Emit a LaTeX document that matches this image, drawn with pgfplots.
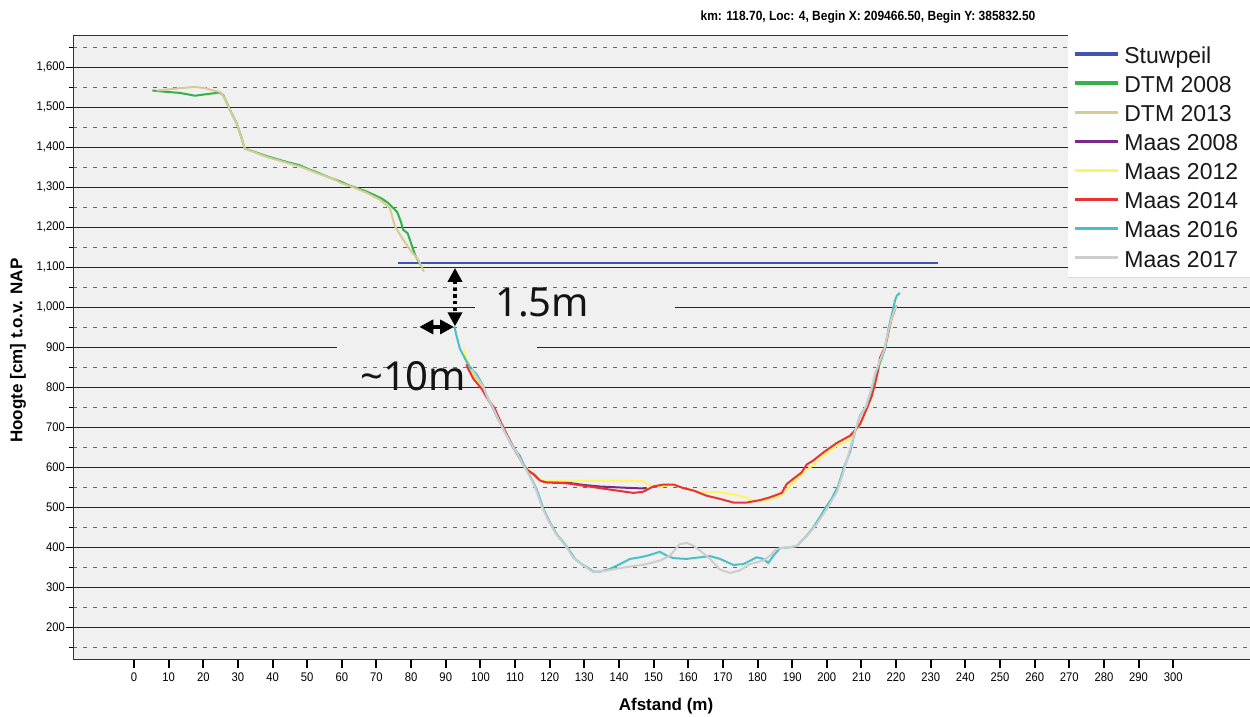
\documentclass[border=0pt]{standalone}
\usepackage{fontspec}
\setmainfont{Liberation Sans}
\newfontfamily\narrowfont[FakeStretch=0.9]{Liberation Sans}
\newfontfamily\notefont{Noto Sans}
\usepackage{pgfplots}
\pgfplotsset{compat=1.18}
\usetikzlibrary{arrows.meta}

\definecolor{plotbg}{RGB}{240,240,240}
\definecolor{stuw}{RGB}{64,84,176}
\definecolor{dtmA}{RGB}{52,178,74}
\definecolor{dtmB}{RGB}{212,204,150}
\definecolor{maasA}{RGB}{122,40,138}
\definecolor{maasB}{RGB}{253,245,100}
\definecolor{maasC}{RGB}{235,50,50}
\definecolor{maasD}{RGB}{72,192,196}
\definecolor{maasE}{RGB}{205,205,205}

\begin{document}
\begin{tikzpicture}
\begin{axis}[
  scale only axis,
  width=707.7pt, height=374.2pt,
  xmin=-17.52, xmax=322.98,
  ymin=120, ymax=1679.25,
  clip mode=individual,
  axis background/.style={fill=plotbg},
  axis line style={black!80, line width=0.8pt},
  tick pos=left, tick align=outside,
  xtick={0,10,...,300},
  ytick={200,300,...,1600},
  minor ytick={150,250,...,1650},
  ymajorgrids, yminorgrids,
  major grid style={black!85, line width=0.75pt},
  minor grid style={black!60, line width=0.8pt, dash pattern=on 2.4pt off 3.6pt},
  xtick style={black, line width=1.2pt, /pgfplots/major tick length=5pt},
  ytick style={black, line width=0.8pt, /pgfplots/major tick length=4.2pt},
  minor tick length=2.4pt,
  /pgf/number format/assume math mode=true,
  /pgf/number format/1000 sep={,},
  xticklabel style={font=\narrowfont\fontsize{7.5}{9}\selectfont, inner sep=0pt, yshift=-3.4pt},
  yticklabel style={font=\narrowfont\fontsize{7.5}{9}\selectfont, inner sep=0pt, xshift=-0.6pt},
  legend cell align=left,
  legend image code/.code={\draw[#1, line width=2pt] (0pt,0pt) -- (25.8pt,0pt);},
  legend style={at={(0.8473,0.99411)}, anchor=north west, draw=none, fill=white,
    inner xsep=0pt, inner ysep=0pt, row sep=0.26pt, column sep=3pt,
    font=\fontsize{13.8}{16}\selectfont, text=black!90,
    nodes={inner sep=0pt, text height=14.2pt, text depth=3pt}},
]
\coordinate (O) at (rel axis cs:0,0);

% text boxes pasted over the grid
\fill[plotbg] (axis cs:98.4,979.25) rectangle (axis cs:156.2,1019.25);
\fill[plotbg] (axis cs:58.6,879.25) rectangle (axis cs:116.3,911.75);

% weir level
\addplot[stuw, line width=1pt] coordinates {(76.3,1110) (232.1,1110)};
\addlegendentry{Stuwpeil}

% DTM surveys
\addplot[dtmA, line width=1.2pt] coordinates {
(5.3,1542) (9,1539) (13.3,1536) (17.6,1529) (21.0,1533) (24.8,1537) (25.8,1530)
(27.7,1494) (29.6,1461) (30.8,1430) (32.0,1397) (35,1388) (38.3,1378) (43,1366)
(47.9,1355) (50.5,1345) (52.7,1338) (56,1326) (59.5,1315) (62,1305) (64.8,1297)
(67,1290) (69.1,1282) (71.5,1272) (73.4,1261) (76.0,1238) (77.0,1215) (77.7,1194)
(79,1185) (80.0,1160) (81.1,1132) (82.6,1107)};
\addlegendentry{DTM 2008}

\addplot[dtmB, line width=1.2pt] coordinates {
(6.5,1542) (10,1545) (13.3,1548) (17.6,1551) (20.5,1548) (22.9,1542) (25.0,1538)
(26,1525) (27.7,1494) (29.6,1461) (30.8,1430) (32.0,1397) (35,1387) (38.3,1376)
(43,1364) (47.9,1352) (52.7,1336) (57.5,1321) (60,1310) (63.3,1300) (67,1287)
(71.0,1269) (73.9,1248) (75.3,1203) (77.7,1169) (80,1140) (82,1120) (83.7,1089)};
\addlegendentry{DTM 2013}

% multibeam surveys
\addplot[maasA, line width=1.2pt] coordinates {
(97.0,852) (98.2,825) (100.5,799) (102,774) (103.6,749) (105.1,722) (106.4,702)
(108,676) (109.5,651) (111,628) (112.5,606) (114,591) (115.5,582) (117.2,568)
(118.2,564) (124.9,562) (129.7,556) (134.5,552) (139.3,550) (144.2,548) (148.0,547)};
\addlegendentry{Maas 2008}

\addplot[maasB, line width=1.2pt] coordinates {
(95.1,896) (96.0,871) (97.0,850) (98.2,825) (100.4,800) (102,776) (103.6,750)
(105.1,724) (106.6,699) (108.1,674) (109.6,649) (111.1,627) (112.6,606) (114.3,590)
(116.2,576) (118.2,567) (124.9,567) (134.5,566) (144.2,566) (147.0,565) (149.0,554)
(151.8,552) (155.7,556) (159.5,546) (163.4,538) (168.2,538) (173.0,533) (176.9,524)
(178.8,515) (181.7,516) (183.6,520) (187.0,530) (188.8,548) (190.3,562) (193,585)
(196.1,606) (199,628) (202.9,654) (206.7,671) (208.1,688) (209.6,707) (211.5,744)
(213.0,777) (214.9,843) (216.8,898) (218.7,968) (219.7,993)};
\addlegendentry{Maas 2012}

\addplot[maasC, line width=1.2pt] coordinates {
(96.0,858) (96.5,846) (98.0,821) (100.4,796) (101.8,775) (103,760) (104.2,746)
(105.4,722) (106.5,702) (108,675) (109.5,650) (111,628) (112.5,605) (113.8,592)
(115.3,583) (117.2,567) (119.1,562) (124.9,560) (129.7,554) (134.5,548) (139.3,542)
(144.2,536) (147.0,539) (149.9,552) (152.8,557) (155.7,557) (158.6,548) (161.5,542)
(165.3,529) (169.2,521) (173.0,512) (176.9,512) (180.7,518) (183.6,525) (187.0,536)
(188.4,558) (190.3,571) (192.7,587) (194.2,607) (196.1,617) (199.0,637) (202.9,661)
(206.7,679) (208.1,692) (209.6,708) (211.5,746) (213.0,779) (213.9,808) (214.9,846)
(215.4,875) (216.8,900) (217.8,938) (218.7,971) (219.7,996) (220.2,1004)};
\addlegendentry{Maas 2014}

\addplot[maasD, line width=1.2pt] coordinates {
(92.5,952) (93.1,929) (94.1,896) (95.6,871) (97.0,850) (98.9,833) (100.8,804)
(101.8,779) (103.2,755) (104.6,730) (106.1,704) (107.6,680) (109.0,655) (110.3,640)
(111.4,629) (112.6,605) (114.3,579) (116.2,546) (118.2,496) (120.1,462) (122.0,433)
(123.9,413) (125.4,396) (127.3,371) (129.2,358) (131.6,346) (132.6,339) (134.5,339)
(137.4,346) (140.3,358) (143.2,371) (146.1,375) (149.0,381) (151.8,389) (153.8,379)
(155.7,373) (159.5,371) (163.4,375) (166.3,378) (169.2,371) (173.0,356) (175.9,358)
(179.8,375) (181.7,371) (183.1,361) (184.6,379) (186.5,398) (189.4,400) (191.3,403)
(194.2,429) (196.1,450) (198.0,475) (199.7,500) (201.4,521) (203.3,554) (204.8,596)
(206.7,638) (208.1,688) (209.6,729) (211.5,754) (213.0,796) (214.2,838) (215.4,862)
(216.8,896) (217.8,946) (218.7,979) (219.7,1017) (220.2,1029) (221.1,1036)};
\addlegendentry{Maas 2016}

\addplot[maasE, line width=1.2pt] coordinates {
(97.5,845) (99,825) (100.8,802) (102.3,770) (104,742) (105.6,712) (107.2,685)
(108.8,660) (110.6,635) (112.2,608) (113.8,585) (115.8,550) (117.8,500) (119.7,466)
(121.6,436) (123.5,415) (125.0,398) (126.9,373) (128.8,360) (131.2,346) (132.6,338)
(136.5,342) (140.3,348) (144.2,353) (148.0,358) (151.9,367) (154.7,379) (157.6,408)
(159.6,411) (161.5,404) (163.4,392) (166.3,371) (169.2,344) (172.1,336) (174.9,342)
(177.8,358) (181.7,367) (183.6,379) (185.5,396) (188.4,400) (191.3,403) (194.2,428)
(197.1,458) (200.0,496) (202.9,538) (204.5,580) (206.2,630) (207.8,680) (209.4,725)
(211.3,752) (212.8,795) (214.0,835) (215.2,865) (216.5,892) (217.6,935) (218.6,968)
(219.6,995) (220.2,1003)};
\addlegendentry{Maas 2017}

% distance annotations
\draw[black, line width=2.5pt, dash pattern=on 2pt off 2pt,
  {Triangle[length=8.4pt,width=8.4pt]}-{Triangle[length=8.4pt,width=8.4pt]}]
  (axis cs:92.67,1098.5) -- (axis cs:92.67,952.5);
\draw[black, line width=2.2pt,
  {Triangle[length=8.4pt,width=8.4pt]}-{Triangle[length=8.4pt,width=8.4pt]}]
  (axis cs:82.36,951) -- (axis cs:92.38,951);
\node[font=\notefont\fontsize{24}{28}\selectfont, text=black!92, anchor=base west, inner sep=0pt]
  at (axis cs:104.2,976.75) {1.5m};
\node[font=\notefont\fontsize{24}{28}\selectfont, text=black!92, anchor=base west, inner sep=0pt]
  at (axis cs:65.2,791.75) {\textasciitilde 10m};

% legend panel
\fill[white] (axis cs:269.6,1074.25) rectangle (axis cs:330,1800);
\draw[black!15, line width=0.6pt] (axis cs:269.6,1074.25) -- (axis cs:330,1074.25);

% title and axis labels
\node[font=\narrowfont\bfseries\fontsize{8}{9.6}\selectfont] at (axis cs:211.9,1725)
  {km: 118.70, Loc: 4, Begin X: 209466.50, Begin Y: 385832.50};
\node[font=\bfseries\fontsize{10.2}{12}\selectfont] at (axis cs:153.6,4.25) {Afstand (m)};
\node[font=\bfseries\fontsize{10.2}{12}\selectfont, rotate=90] at (axis cs:-33.5,891.75)
  {Hoogte [cm] t.o.v. NAP};
\end{axis}
\pgfresetboundingbox
\path[use as bounding box] (O) ++(-43.98pt,-34.02pt) rectangle ++(750pt,429.6pt);
\end{tikzpicture}
\end{document}
